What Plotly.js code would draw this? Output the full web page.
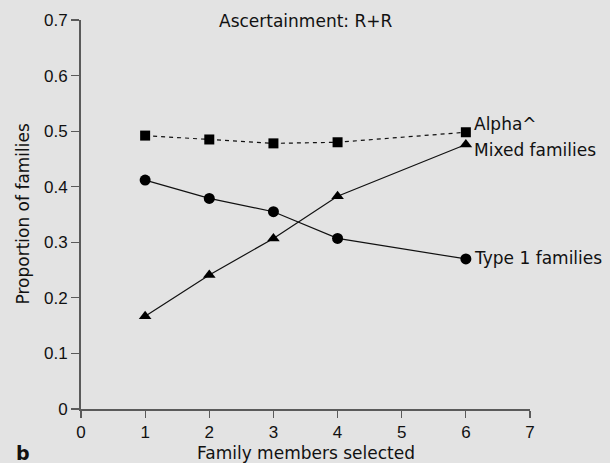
<!DOCTYPE html>
<html>
<head>
<meta charset="utf-8">
<script src="https://cdn.plot.ly/plotly-3.0.1.min.js"></script>
<style>html,body{margin:0;padding:0;background:#e3e3e3;}#chart{width:610px;height:463px;}</style>
</head>
<body>
<div id="chart"></div>
<script>
const familyMembers = [1, 2, 3, 4, 6];
const alphaHat = [0.492, 0.485, 0.478, 0.480, 0.498];
const type1Families = [0.412, 0.379, 0.355, 0.307, 0.270];
const mixedFamilies = [0.167, 0.241, 0.307, 0.383, 0.476];
const xTicks = [0, 1, 2, 3, 4, 5, 6, 7];
const yTicks = [0, 0.1, 0.2, 0.3, 0.4, 0.5, 0.6, 0.7];
const seriesLabels = ["Alpha^", "Mixed families", "Type 1 families"];

const labelFont = {family: "DejaVu Sans", size: 17, color: "#111"};
const tickFont = {family: "Liberation Sans", size: 17, color: "#111"};
const last = familyMembers.length - 1;

const traces = [
  {x: familyMembers, y: alphaHat, mode: "lines+markers", name: seriesLabels[0],
   line: {color: "#111", width: 1.2, dash: "4px,4px"},
   marker: {symbol: "square", size: 10, color: "#000"}},
  {x: familyMembers, y: type1Families, mode: "lines+markers", name: seriesLabels[2],
   line: {color: "#111", width: 1.2},
   marker: {symbol: "circle", size: 11, color: "#000"}},
  {x: familyMembers, y: mixedFamilies, mode: "lines+markers", name: seriesLabels[1],
   line: {color: "#111", width: 1.2},
   marker: {symbol: "triangle-up", size: 11, color: "#000"}}
];

const layout = {
  width: 610, height: 463,
  margin: {l: 81, r: 80, t: 20, b: 54},
  paper_bgcolor: "#e3e3e3", plot_bgcolor: "#e3e3e3",
  showlegend: false,
  xaxis: {range: [0, 7], tickvals: xTicks, ticktext: xTicks.map(String),
    showgrid: false, zeroline: false, showline: true, linecolor: "#5a5a5a", linewidth: 2,
    ticks: "outside", ticklen: 7, tickwidth: 1.2, tickcolor: "#5a5a5a", tickfont: tickFont},
  yaxis: {range: [0, 0.7], tickvals: yTicks, ticktext: yTicks.map(v => v === 0 ? "0" : v.toFixed(1)),
    showgrid: false, zeroline: false, showline: true, linecolor: "#5a5a5a", linewidth: 2,
    ticks: "outside", ticklen: 8, tickwidth: 1.2, tickcolor: "#5a5a5a", tickfont: tickFont},
  annotations: [
    {text: "Ascertainment: R+R", xref: "paper", yref: "paper", x: 0.5, y: 1, yshift: -1,
     xanchor: "center", yanchor: "middle", showarrow: false, font: labelFont},
    {text: seriesLabels[0], xref: "x", yref: "y", x: familyMembers[last], y: alphaHat[last],
     xanchor: "left", yanchor: "middle", xshift: 6, yshift: 8, showarrow: false, font: labelFont},
    {text: seriesLabels[1], xref: "x", yref: "y", x: familyMembers[last], y: mixedFamilies[last],
     xanchor: "left", yanchor: "middle", xshift: 6, yshift: -6, showarrow: false, font: labelFont},
    {text: seriesLabels[2], xref: "x", yref: "y", x: familyMembers[last], y: type1Families[last],
     xanchor: "left", yanchor: "middle", xshift: 6, yshift: 1, showarrow: false, font: labelFont},
    {text: "Family members selected", xref: "paper", yref: "paper", x: 0.5, y: 0, yshift: -44,
     xanchor: "center", yanchor: "middle", showarrow: false, font: labelFont},
    {text: "Proportion of families", xref: "paper", yref: "paper", x: 0, xshift: -59, y: 0.5,
     xanchor: "center", yanchor: "middle", textangle: -90, showarrow: false, font: labelFont},
    {text: "<b>b</b>", xref: "paper", yref: "paper", x: 0, xshift: -67, y: 0, yshift: -44,
     xanchor: "left", yanchor: "middle", showarrow: false,
     font: {family: "DejaVu Sans", size: 19, color: "#111"}}
  ]
};

Plotly.newPlot("chart", traces, layout, {staticPlot: true, displayModeBar: false});
</script>
</body>
</html>
